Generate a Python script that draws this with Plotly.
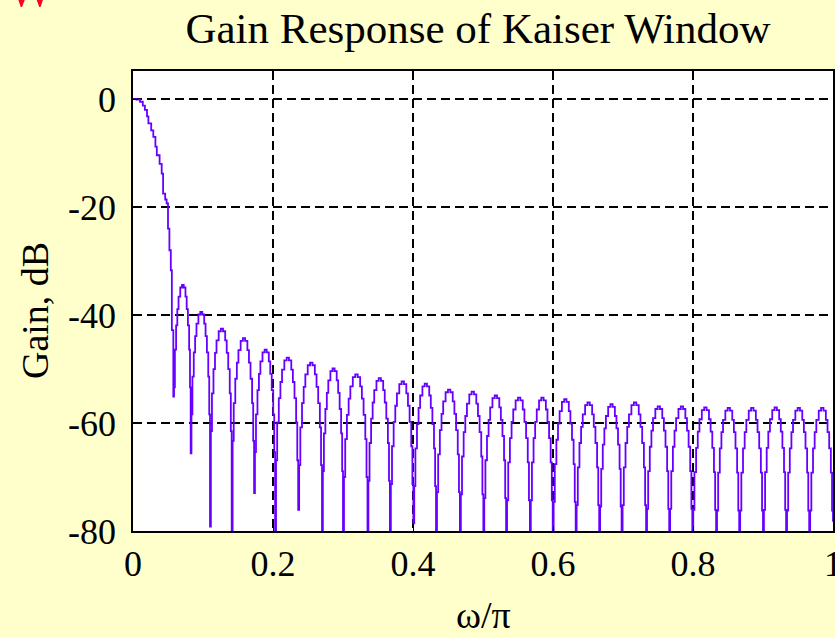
import plotly.graph_objects as go

# ---- data ----
# main lobe (omega/pi, gain dB)
main_x = [0.0, 0.005, 0.010, 0.014, 0.017, 0.020, 0.022, 0.026, 0.029, 0.032, 0.034,
          0.038, 0.041, 0.043, 0.046, 0.048, 0.050, 0.052, 0.054, 0.0555]
main_db = [0.0, -0.1, -0.5, -1.2, -2.0, -3.2, -4.5, -5.8, -7.0, -8.8, -10.4,
           -12.0, -13.8, -17.5, -18.6, -19.3, -24.0, -28.0, -31.7, -42.8]

# nulls between sidelobes (omega/pi) and their depth (dB)
null_x = [0.0576, 0.0824, 0.110, 0.141, 0.173, 0.203, 0.236, 0.270, 0.300, 0.335,
          0.367, 0.4005, 0.4329, 0.467, 0.5005, 0.533, 0.567, 0.5996, 0.6324, 0.666,
          0.698, 0.733, 0.766, 0.799, 0.833, 0.866, 0.900, 0.933, 0.966, 1.0]
null_db = [-55.1, -65.6, -79.2, -81.0, -73.0, -81.0, -76.1, -81.0, -81.0, -81.0,
           -81.0, -78.6, -81.0, -81.0, -81.0, -81.0, -81.0, -81.0, -81.0, -81.0,
           -81.0, -81.0, -81.0, -81.0, -81.0, -81.0, -81.0, -81.0, -81.0, -78.3]

# sidelobe peak levels (dB), one per lobe between consecutive nulls
peak_db = [-34.4, -39.4, -42.5, -44.3, -46.4, -47.9, -48.8, -49.9, -51.0, -51.7,
           -52.3, -52.7, -53.8, -54.2, -54.9, -55.3, -55.3, -55.6, -56.2, -56.5,
           -56.2, -56.9, -56.9, -57.1, -57.2, -57.2, -57.1, -57.2, -57.2]

# shape of one sidelobe: fraction across lobe, level relative to its peak (dB)
lobe_frac = [0.04, 0.09, 0.16, 0.23, 0.30, 0.40, 0.50, 0.60, 0.70, 0.77, 0.84, 0.91, 0.96]
lobe_rel = [-19.0, -12.0, -7.5, -4.5, -2.2, -0.5, 0.0, -0.5, -2.2, -4.5, -7.5, -12.0, -19.0]

x_ticks = [0, 0.2, 0.4, 0.6, 0.8, 1.0]
x_tick_text = ["0", "0.2", "0.4", "0.6", "0.8", "1"]
y_ticks = [-80, -60, -40, -20, 0]
y_tick_text = ["-80", "-60", "-40", "-20", "0"]

# ---- assemble the curve ----
xs = list(main_x)
ys = list(main_db)
for i in range(len(null_x)):
    xs.append(null_x[i])
    ys.append(null_db[i])
    if i < len(peak_db):
        a, b = null_x[i], null_x[i + 1]
        for f, r in zip(lobe_frac, lobe_rel):
            xs.append(a + f * (b - a))
            ys.append(peak_db[i] + r)

FONT = "Liberation Serif"
fig = go.Figure()
fig.add_trace(go.Scatter(x=xs, y=ys, mode="lines", line=dict(color="#6600FF", width=1.8, shape="hv"),
                         showlegend=False, hoverinfo="skip"))

fig.update_layout(
    width=835, height=638,
    paper_bgcolor="#FFFFCC", plot_bgcolor="white",
    margin=dict(l=133, r=2, t=71, b=107, autoexpand=False),
    font=dict(family=FONT, color="black", size=36),
    title=dict(text="Gain Response of Kaiser Window", font=dict(family=FONT, size=43, color="black"),
               xref="container", x=478 / 835, xanchor="center",
               yref="container", y=1 - 28 / 638, yanchor="middle"),
    xaxis=dict(range=[0, 1], tickvals=x_ticks, ticktext=x_tick_text,
               showgrid=True, gridcolor="black", gridwidth=1.6, griddash="9px,5px",
               showline=True, linecolor="black", linewidth=1.8, mirror=True,
               zeroline=False, ticks="inside", ticklen=5, tickcolor="black",
               ticklabeloverflow="allow", automargin=False,
               tickfont=dict(family=FONT, size=36)),
    yaxis=dict(range=[-80, 5.2], tickvals=y_ticks, ticktext=y_tick_text,
               showgrid=True, gridcolor="black", gridwidth=1.6, griddash="9px,5px",
               showline=True, linecolor="black", linewidth=1.8, mirror=True,
               zeroline=False, ticks="inside", ticklen=5, tickcolor="black",
               automargin=False,
               tickfont=dict(family=FONT, size=36), ticklabelstandoff=8),
    annotations=[
        dict(text="ω/π", xref="paper", yref="paper", x=0.5, y=(531 - 615) / 460,
             xanchor="center", yanchor="middle", showarrow=False,
             font=dict(family=FONT, size=38)),
        dict(text="Gain, dB", xref="paper", yref="paper", x=(35 - 133) / 700, y=(531 - 310) / 460,
             xanchor="center", yanchor="middle", showarrow=False, textangle=-90,
             font=dict(family=FONT, size=38)),
        dict(text="W", xref="paper", yref="paper", x=(31 - 133) / 700, y=(531 - 19) / 460,
             xanchor="center", yanchor="bottom", showarrow=False,
             font=dict(family=FONT, size=50, color="#FF0022")),
    ],
)

fig.write_html("out.html")
